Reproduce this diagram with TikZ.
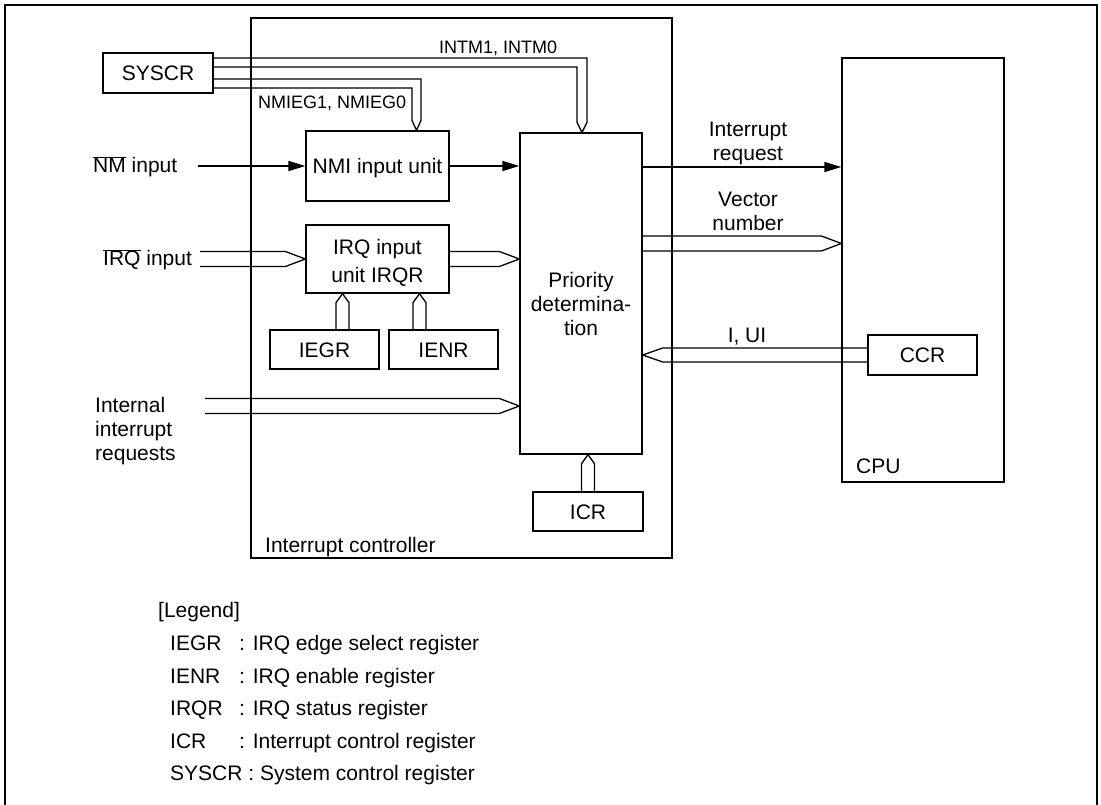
\documentclass[tikz,border=0pt]{standalone}
\usepackage{fontspec}
\setmainfont{Liberation Sans}
\usetikzlibrary{arrows.meta,calc}
\newcommand\ovl[1]{\mbox{$\overline{\mbox{#1}}$}}
\newcommand\busRight[2]{\draw[bus] ($(#1)+(0,-7.5)$) -- ($(#2)+(-20,-7.5)$) -- (#2) -- ($(#2)+(-20,7.5)$) -- ($(#1)+(0,7.5)$);}
\newcommand\busLeft[2]{\draw[bus] ($(#1)+(0,-7)$) -- ($(#2)+(20,-7)$) -- (#2) -- ($(#2)+(20,7)$) -- ($(#1)+(0,7)$);}
\newcommand\busUp[2]{\draw[bus] ($(#1)+(-6.5,0)$) -- ($(#2)+(-6.5,9)$) -- (#2) -- ($(#2)+(6.5,9)$) -- ($(#1)+(6.5,0)$);}
\begin{document}
\begin{tikzpicture}[x=1pt,y=-1pt,line join=miter,
  box/.style={draw,line width=1.3pt,inner sep=0pt,font=\fontsize{21}{24}\selectfont,text height=15pt,text depth=0pt},
  bus/.style={line width=1.3pt},
  arr/.style={line width=1.3pt,-{Triangle[length=17pt,width=10pt]}},
  lbl/.style={inner sep=0pt,font=\fontsize{21}{24}\selectfont},
  small/.style={inner sep=0pt,font=\fontsize{18}{21}\selectfont}]
\useasboundingbox (0,0) rectangle (1101,805);
\draw[line width=2.5pt] (5,805) -- (5,5) -- (1097,5) -- (1097,805);

% boxes
\node[box,minimum width=421pt,minimum height=540pt] (ic) at (461.5,288) {};
\node[box,minimum width=110pt,minimum height=40pt] (syscr) at (158,73) {SYSCR};
\node[box,minimum width=143pt,minimum height=70pt] (nmi) at (377.5,166) {NMI input unit};
\node[box,minimum width=143pt,minimum height=68pt] (irq) at (377.5,259) {};
\node[box,minimum width=109pt,minimum height=39pt] (iegr) at (324.5,349.5) {IEGR};
\node[box,minimum width=109pt,minimum height=39pt] (ienr) at (443.5,349.5) {IENR};
\node[box,minimum width=122pt,minimum height=321pt] (pri) at (581,293.5) {};
\node[box,minimum width=110pt,minimum height=39pt] (icr) at (588,511.5) {ICR};
\node[box,minimum width=162pt,minimum height=424pt] (cpu) at (923,270) {};
\node[box,minimum width=109pt,minimum height=40pt] (ccr) at (922.5,355) {CCR};

% texts inside multi-line boxes (base = last line)
\node[lbl,anchor=base,align=center] (irqtxt) at (377.5,283) {IRQ input\\[4pt]unit IRQR};
\node[lbl,anchor=base,align=center] (pritxt) at (581,335) {Priority\\determina-\\tion};
\node[lbl,anchor=base west] (iclbl) at (265,552) {Interrupt controller};
\node[lbl,anchor=base west] (cpulbl) at (856,473) {CPU};

% SYSCR buses
\coordinate (intmT) at ($(pri.north)+(1,0)$);
\draw[bus] ($(syscr.east)+(0,-15)$) -| ($(intmT)+(5,-10)$) -- (intmT) -- ($(intmT)+(-5,-10)$) |- ($(syscr.east)+(0,-6)$);
\coordinate (nmiegT) at ($(nmi.north)+(39,0)$);
\draw[bus] ($(syscr.east)+(0,6)$) -| ($(nmiegT)+(4.5,-10)$) -- (nmiegT) -- ($(nmiegT)+(-4.5,-10)$) |- ($(syscr.east)+(0,15)$);
\node[small,anchor=base west] (intmlbl) at (439,54) {INTM1, INTM0};
\node[small,anchor=base west] (nmieglbl) at (258,109) {NMIEG1, NMIEG0};

% NMI
\coordinate (nmiin) at (198,166);
\draw[arr] (nmiin) -- (nmi.west);
\draw[arr] (nmi.east) -- (pri.west |- nmi.east);
\node[lbl,anchor=base west] (nmilbl) at (93,173) {\ovl{NM} input};

% IRQ
\coordinate (irqin) at (200,259);
\busRight{irqin}{irq.west}
\coordinate (irqT) at (pri.west |- irq.east);
\busRight{irq.east}{irqT}
\node[lbl,anchor=base west] (irqlbl) at (103,266) {\ovl{IRQ} input};

% IEGR / IENR
\path (iegr.north) ++(18,0) coordinate (iegrS);
\coordinate (iegrT) at (iegrS |- irq.south);
\busUp{iegrS}{iegrT}
\path (ienr.north) ++(-24,0) coordinate (ienrS);
\coordinate (ienrT) at (ienrS |- irq.south);
\busUp{ienrS}{ienrT}

% internal
\coordinate (intS) at (205,406);
\coordinate (intT) at (pri.west |- intS);
\busRight{intS}{intT}
\node[lbl,anchor=base west,align=left] (intlbl) at (95,460) {Internal\\interrupt\\requests};

% ICR
\coordinate (icrT) at (icr.north |- pri.south);
\busUp{icr.north}{icrT}

% to CPU
\path (pri.east) ++(0,-126.5) coordinate (reqS);
\draw[arr] (reqS) -- (cpu.west |- reqS);
\node[lbl,anchor=base,align=center] (reqlbl) at (748,161) {Interrupt\\request};
\path (pri.east) ++(0,-50) coordinate (vecS);
\coordinate (vecT) at (cpu.west |- vecS);
\busRight{vecS}{vecT}
\node[lbl,anchor=base,align=center] (veclbl) at (748,231) {Vector\\number};
\coordinate (ccrT) at (pri.east |- ccr.west);
\busLeft{ccr.west}{ccrT}
\node[lbl,anchor=base] (iuilbl) at (747,342) {I, UI};

% legend
\node[lbl,anchor=base west] (leg) at (158,617) {[Legend]};
\node[lbl,anchor=base west] (l1a) at (170,650) {IEGR};
\node[lbl,anchor=base west] (l1b) at (239,650) {: IRQ edge select register};
\node[lbl,anchor=base west] (l2a) at (170,683) {IENR};
\node[lbl,anchor=base west] (l2b) at (239,683) {: IRQ enable register};
\node[lbl,anchor=base west] (l3a) at (170,715) {IRQR};
\node[lbl,anchor=base west] (l3b) at (239,715) {: IRQ status register};
\node[lbl,anchor=base west] (l4a) at (170,748) {ICR};
\node[lbl,anchor=base west] (l4b) at (239,748) {: Interrupt control register};
\node[lbl,anchor=base west] (l5) at (170,780) {SYSCR : System control register};
\end{tikzpicture}
\end{document}
